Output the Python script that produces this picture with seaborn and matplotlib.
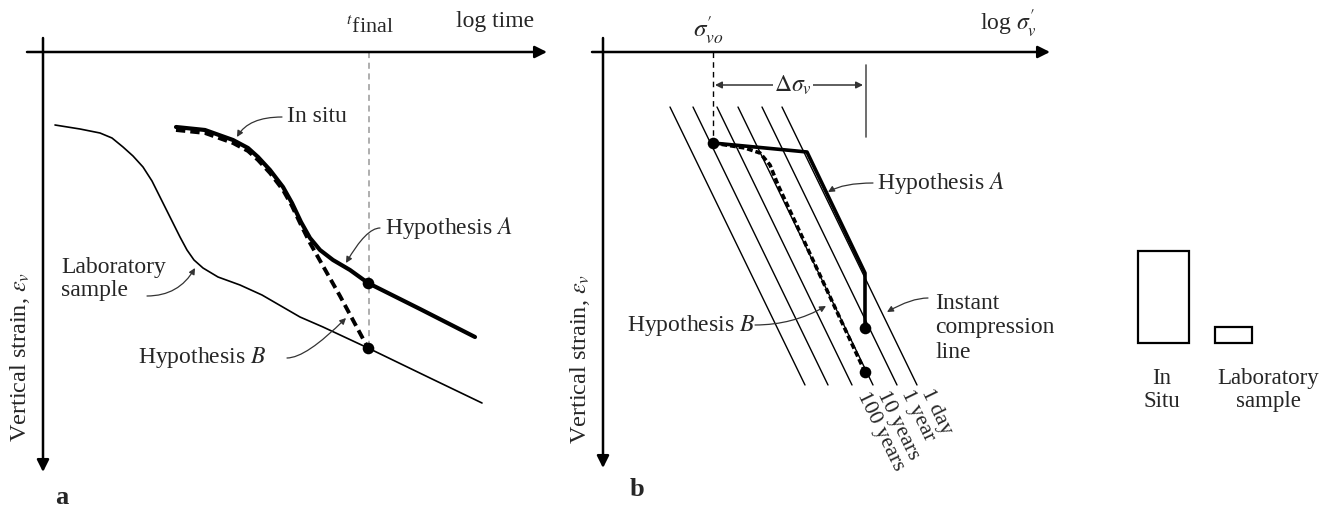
import matplotlib
matplotlib.use("Agg")
import matplotlib.pyplot as plt
import seaborn as sns

# --- values, in image pixels (y grows downward) ---
W, H = 1341, 513

# panel a: strain vs log time
lab_x = [55, 80, 100, 112, 123, 133, 143, 152, 160, 167, 173, 180, 187, 194, 203, 218, 240, 262, 300, 323, 368, 430, 482]
lab_y = [125, 129, 133, 138, 147, 156, 167, 181, 197, 211, 223, 237, 250, 260, 268, 277, 285, 295, 317, 327, 348, 378, 403]
insitu_x = [176, 205, 233, 248, 258, 270, 283, 292, 301, 310, 320, 333, 350, 368, 420, 475]
insitu_y = [127, 130, 140, 148, 157, 170, 187, 203, 222, 238, 250, 260, 270, 283, 309, 337]
hypb_a_x = [176, 205, 233, 248, 258, 270, 283, 292, 301, 310, 340, 368]
hypb_a_y = [130, 133, 143, 151, 160, 173, 190, 206, 225, 243, 296, 348]
t_final = 369
pts_a_x = [368, 368]
pts_a_y = [283, 348]

# panel b: strain vs log effective stress
iso_top_x = [670, 693, 717, 738, 762, 782]
iso_bot_x = [805, 828, 852, 873, 897, 917]
iso_top_y = 107
iso_bot_y = 385
iso_labels = ["100 years", "10 years", "1 year", "1 day"]
hypa_b_x = [713, 807, 865, 865]
hypa_b_y = [143, 152, 273, 328]
hypb_b_x = [713, 745, 760, 770, 778, 865]
hypb_b_y = [143, 148, 153, 165, 185, 372]
sigma_vo = 713
delta_end = 866
pts_b_x = [713, 865, 865]
pts_b_y = [143, 328, 372]

# sample sizes sketch on the right
sample_names = ["In\nSitu", "Laboratory\nsample"]
sample_x = [1163.5, 1233.5]
sample_h = [92, 16]
sample_w = [51, 37]
sample_base = 343

sns.set_style("white")
plt.rcParams["font.family"] = ["Liberation Serif", "DejaVu Serif"]
plt.rcParams["mathtext.fontset"] = "stix"

fig = plt.figure(figsize=(W / 100, H / 100), dpi=100)
ax = fig.add_axes([0, 0, 1, 1])

FS = 17
arrow_kw = dict(arrowstyle="-|>", lw=1.8, color="black", mutation_scale=18, shrinkA=0, shrinkB=0)
lead_kw = dict(arrowstyle="-|>", lw=0.9, color="#333333", mutation_scale=9, shrinkA=0, shrinkB=0)


def axis_arrow(tip, start):
    ax.annotate("", xy=tip, xytext=start, arrowprops=arrow_kw)


def leader(text_end, tip, angle_b):
    # leaves the text horizontally, bends towards the curve
    kw = dict(lead_kw, connectionstyle=f"angle3,angleA=0,angleB={angle_b}")
    ax.annotate("", xy=tip, xytext=text_end, arrowprops=kw)


# ---------- panel a ----------
axis_arrow((547, 52), (27, 52))
axis_arrow((43, 472), (43, 38))
ax.plot([t_final, t_final], [52, 348], color="#999999", lw=1.1, linestyle=(0, (4, 3)))

sns.lineplot(x=lab_x, y=lab_y, sort=False, estimator=None, color="black", lw=1.2, ax=ax)
sns.lineplot(x=hypb_a_x, y=hypb_a_y, sort=False, estimator=None, color="black", lw=2.8,
             linestyle=(0, (2.4, 1.3)), ax=ax)
sns.lineplot(x=insitu_x, y=insitu_y, sort=False, estimator=None, color="black", lw=3.0, ax=ax)
sns.scatterplot(x=pts_a_x, y=pts_a_y, color="black", s=70, linewidth=0, zorder=5, ax=ax)

ax.text(495, 22, "log time", fontsize=FS, ha="center", va="center")
ax.text(370, 27, r"$^{t}$final", fontsize=FS - 1, ha="center", va="center")
ax.text(287, 117, "In situ", fontsize=FS, ha="left", va="center")
leader((282, 117), (237, 137), 60)
ax.text(385, 228, r"Hypothesis $A$", fontsize=FS, ha="left", va="center")
leader((380, 228), (346, 263), 60)
ax.text(61, 279, "Laboratory\nsample", fontsize=FS, ha="left", va="center", linespacing=1.15)
leader((147, 296), (195, 268), 60)
ax.text(138, 358, r"Hypothesis $B$", fontsize=FS, ha="left", va="center")
leader((287, 358), (346, 318), 45)
ax.text(20, 357, r"Vertical strain, $\varepsilon_v$", fontsize=FS + 0.5, rotation=90,
        ha="center", va="center")
ax.text(62, 497, "a", fontsize=19, fontweight="bold", ha="center", va="center")

# ---------- panel b ----------
axis_arrow((1050, 52), (592, 52))
axis_arrow((603, 468), (603, 38))
ax.plot([sigma_vo, sigma_vo], [52, 143], color="black", lw=1.0, linestyle=(0, (4, 3)))
ax.plot([delta_end, delta_end], [65, 137], color="#555555", lw=1.2)

for xt, xb in zip(iso_top_x, iso_bot_x):
    sns.lineplot(x=[xt, xb], y=[iso_top_y, iso_bot_y], sort=False, estimator=None,
                 color="black", lw=1.0, ax=ax)

sns.lineplot(x=hypb_b_x, y=hypb_b_y, sort=False, estimator=None, color="black", lw=2.6,
             linestyle=(0, (1.6, 0.8)), ax=ax)
sns.lineplot(x=hypa_b_x, y=hypa_b_y, sort=False, estimator=None, color="black", lw=2.6, ax=ax)
sns.scatterplot(x=pts_b_x, y=pts_b_y, color="black", s=70, linewidth=0, zorder=5, ax=ax)

for lab, xb, dx, dy in zip(iso_labels, iso_bot_x[2:], [10, 9, 9, 9], [8, 7, 6, 5]):
    ax.text(xb + dx, iso_bot_y + dy, lab, fontsize=FS - 1, rotation=-64,
            rotation_mode="anchor", ha="left", va="center")

ax.annotate("", xy=(sigma_vo + 2, 85), xytext=(delta_end - 3, 85),
            arrowprops=dict(arrowstyle="<|-|>", lw=1.1, color="#333333",
                            mutation_scale=10, shrinkA=0, shrinkB=0))
ax.text(793, 85, r"$\Delta\sigma_v$", fontsize=FS, ha="center", va="center",
        bbox=dict(facecolor="white", edgecolor="none", pad=1))
ax.text(708, 30, r"$\sigma_{vo}^{\prime}$", fontsize=FS + 1, ha="center", va="center")
ax.text(1008, 24, r"log $\sigma_v^{\prime}$", fontsize=FS, ha="center", va="center")

ax.text(877, 183, r"Hypothesis $A$", fontsize=FS, ha="left", va="center")
leader((873, 183), (828, 192), 30)
ax.text(935, 328, "Instant\ncompression\nline", fontsize=FS, ha="left", va="center",
        linespacing=1.2)
leader((928, 298), (887, 312), 30)
ax.text(627, 325, r"Hypothesis $B$", fontsize=FS, ha="left", va="center")
leader((755, 325), (826, 306), 30)
ax.text(580, 359, r"Vertical strain, $\varepsilon_v$", fontsize=FS + 0.5, rotation=90,
        ha="center", va="center")
ax.text(637, 490, "b", fontsize=19, fontweight="bold", ha="center", va="center")

# ---------- sample sketch ----------
ax.bar(sample_x, [-h for h in sample_h], bottom=sample_base, width=sample_w,
       fill=False, edgecolor="black", lw=1.6)
for name, x in zip(sample_names, [1162, 1268]):
    ax.text(x, 390, name, fontsize=FS - 0.5, ha="center", va="center", linespacing=1.1)

ax.set_xlim(0, W)
ax.set_ylim(H, 0)
ax.axis("off")
fig.savefig("out.png", dpi=100, facecolor="white")
